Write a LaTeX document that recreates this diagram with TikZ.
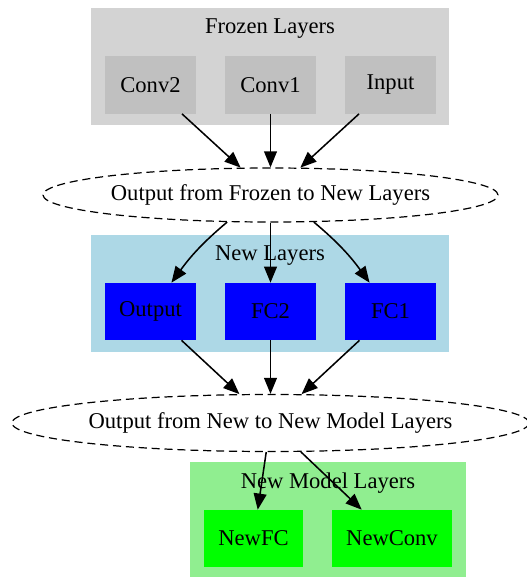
\documentclass[tikz,border=0pt]{standalone}
\usepackage{fontspec}
\setmainfont{Liberation Serif}
\usepackage{tikz}
\usetikzlibrary{positioning,arrows.meta,shapes.geometric}
\definecolor{frozen-gray}{HTML}{D3D3D3}
\definecolor{frozen-node}{HTML}{C0C0C0}
\definecolor{new-blue}{HTML}{ADD8E6}
\definecolor{new-node}{HTML}{0000FF}
\definecolor{model-green}{HTML}{90EE90}
\definecolor{model-node}{HTML}{00FF00}
\newdimen\lyrpx
\setlength{\lyrpx}{0.62pt}
\tikzstyle{lyrclusterstyle}=[shape=rectangle,inner sep=0pt]
\tikzstyle{lyrnodestyle}=[shape=rectangle,inner xsep=14\lyrpx,inner ysep=0pt,minimum width=91\lyrpx,minimum height=57\lyrpx]
\tikzstyle{frozenstyle}=[lyrnodestyle,fill=frozen-node]
\tikzstyle{newstyle}=[lyrnodestyle,fill=new-node]
\tikzstyle{modelstyle}=[lyrnodestyle,fill=model-node]
\tikzstyle{joinstyle}=[shape=ellipse,draw,line width=0.75pt,dash pattern=on 5pt off 3pt,inner sep=0pt]
\tikzstyle{edgestyle}=[draw,line width=0.95pt,-{Triangle[length=10pt,width=8pt]}]
\newcommand{\lyrcluster}[7]{ \draw (#3,#4) node [style=lyrclusterstyle,fill=#2,minimum width=#5\lyrpx,minimum height=#6\lyrpx] (#1) {}; \path (#1.north) ++(0,21) node (#1lbl) {#7}; }
\newcommand{\lyrnode}[5]{ \draw (#3,#4) node [style=#5] (#1) {#2}; }
\newcommand{\lyrjoin}[6]{ \draw (#3,#4) node [style=joinstyle,minimum width=#5\lyrpx,minimum height=#6\lyrpx] (#1) {#2}; }
\newcommand{\lyredge}[2]{ \draw [style=edgestyle] (#1) -- (#2); }
\newcommand{\lyrbend}[4]{ \draw [style=edgestyle] (#1) to [out=#3,in=#4] (#2); }

\begin{document}
\begin{tikzpicture}[x=\lyrpx,y=-\lyrpx,font=\fontsize{14pt}{16pt}\selectfont]
\useasboundingbox (0,0) rectangle (526,577);
\lyrcluster{frozen}{frozen-gray}{270}{66.5}{358}{117}{Frozen Layers} %
\lyrcluster{newlyr}{new-blue}{270}{293.5}{358}{117}{New Layers} %
\lyrcluster{model}{model-green}{328}{519.5}{276}{115}{New Model Layers} %
\lyrnode{conv2}{Conv2}{150.5}{85}{frozenstyle} %
\lyrnode{conv1}{Conv1}{270.5}{85}{frozenstyle} %
\lyrnode{input}{Input}{390.5}{85}{frozenstyle} %
\lyrnode{output}{Output}{150.5}{311.5}{newstyle} %
\lyrnode{fc2}{FC2}{270.5}{311.5}{newstyle} %
\lyrnode{fc1}{FC1}{390.5}{311.5}{newstyle} %
\lyrnode{newfc}{NewFC}{253.5}{538.5}{modelstyle} %
\lyrnode{newconv}{NewConv}{392}{538.5}{modelstyle} %
\lyrjoin{frozenout}{Output from Frozen to New Layers}{270.5}{195}{455}{54} %
\lyrjoin{newout}{Output from New to New Model Layers}{270.5}{423}{517}{57} %
\lyredge{conv2}{frozenout} %
\lyredge{conv1}{frozenout} %
\lyredge{input}{frozenout} %
\lyrbend{frozenout.212}{output}{-140}{54} %
\lyredge{frozenout}{fc2} %
\lyrbend{frozenout.328}{fc1}{-40}{126} %
\lyredge{output}{newout} %
\lyredge{fc2}{newout} %
\lyredge{fc1}{newout} %
\lyredge{newout}{newfc} %
\lyredge{newout}{newconv} %
\end{tikzpicture}
\end{document}
